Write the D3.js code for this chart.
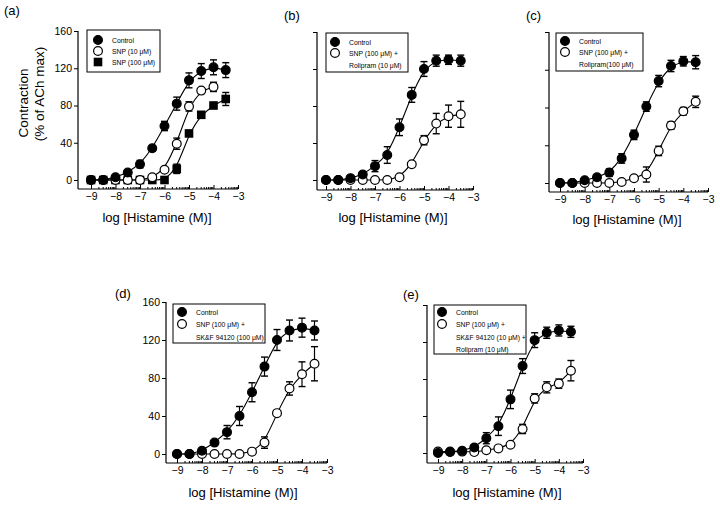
<!DOCTYPE html>
<html><head><meta charset="utf-8">
<script src="https://cdn.jsdelivr.net/npm/d3@7/dist/d3.min.js"></script>
<style>
body{margin:0;background:#fff;}
svg{display:block;font-family:"Liberation Sans",Arial,Helvetica,sans-serif;}
</style></head><body>
<svg id="chart" width="720" height="508"></svg>
<script>
// ---- data ----
const logHistamine = [-9,-8.5,-8,-7.5,-7,-6.5,-6,-5.5,-5,-4.5,-4,-3.5];
const xTickLabels = [-9,-8,-7,-6,-5,-4,-3];
const yTickLabels = [0,40,80,120,160];

const aControl     = [0,0,3,8,17,34,58,82,107,117,121,118];
const aControlErr  = [0,0,0,0,4,3,5,7,8,8,8,8];
const aSnp10       = [0,0,0,0,0,3,11,39,79,96,100,null];
const aSnp10Err    = [0,0,0,0,0,0,0,6,5,0,5,0];
const aSnp100      = [0,0,0,0,0,0,0,12,50,70,80,87];
const aSnp100Err   = [0,0,0,0,0,0,0,5,0,0,0,7];

const bControl     = [0,0,2,6,15,27,57,92,120,129,130,129];
const bControlErr  = [0,0,0,0,6,9,9,8,8,6,5,6];
const bSnpRol      = [0,0,0,0,0,0,3,17,43,61,69,71];
const bSnpRolErr   = [0,0,0,0,0,0,0,0,5,11,12,14];

const cControl     = [0,0,3,6,11,26,51,81,108,124,129,128];
const cControlErr  = [0,0,0,0,4,5,5,5,6,6,5,7];
const cSnpRol      = [0,0,0,0,0,1,5,9,34,61,76,86];
const cSnpRolErr   = [0,0,0,0,0,0,0,8,5,4,4,6];

const dControl     = [0,0,3.5,12,23,40,65,92,120,130,133,130];
const dControlErr  = [0,0,0,0,7,10,10,10,11,11,10,10];
const dSnpSkf      = [0,0,0,0,0,0,2.5,12,43,69,84,95];
const dSnpSkfErr   = [0,0,0,0,0,0,0,6,0,7,13,18];

const eControl     = [0,1,2.5,6,16,29,58,94,122,130,132.5,131];
const eControlErr  = [0,0,0,0,6,10,10,8,8,6,6,6];
const eSnpSkfRol   = [1.5,1.5,1.5,1,3,5,9,26,59,71,75,89];
const eSnpSkfRolErr= [0,0,0,0,0,0,0,5,5,6,5,11];

const legendA = ["Control","SNP (10 μM)","SNP (100 μM)"];
const legendB = ["Control","SNP (100 μM) +","Rolipram (10 μM)"];
const legendC = ["Control","SNP (100 μM) +","Rolipram(100 μM)"];
const legendD = ["Control","SNP (100 μM) +","SK&F 94120 (100 μM)"];
const legendE = ["Control","SNP (100 μM) +","SK&F 94120 (10 μM) +","Rolipram (10 μM)"];

// ---- layout ----
const panels = [
  {title:"(a)", tx:4, ty:15, x9:91, x3:238, y0:180, y160:31, axX:78, axY:189, labels:true, ylabel:true,
   series:[{v:aControl,e:aControlErr,s:"fc"},{v:aSnp10,e:aSnp10Err,s:"oc"},{v:aSnp100,e:aSnp100Err,s:"fs"}],
   leg:{x:87,y:30,w:73,h:42,mx:98,tx:112,rows:[40,51,62],sym:["fc","oc","fs"],txt:legendA},
   xl:{x:157,y:222}},
  {title:"(b)", tx:284, ty:20, x9:326, x3:473, y0:180, y160:32, axX:317, axY:190, labels:false,
   series:[{v:bControl,e:bControlErr,s:"fc"},{v:bSnpRol,e:bSnpRolErr,s:"oc"}],
   leg:{x:326,y:33,w:82,h:39,mx:335,tx:349,rows:[42,53,65],sym:["fc","oc",null],txt:legendB},
   xl:{x:393,y:222}},
  {title:"(c)", tx:526, ty:20, x9:560, x3:708, y0:183, y160:32, axX:549, axY:192, labels:false,
   series:[{v:cControl,e:cControlErr,s:"fc"},{v:cSnpRol,e:cSnpRolErr,s:"oc"}],
   leg:{x:556,y:33,w:87,h:38,mx:565,tx:579,rows:[41,52,64],sym:["fc","oc",null],txt:legendC},
   xl:{x:627,y:224}},
  {title:"(d)", tx:115, ty:298, x9:177, x3:327, y0:454, y160:302, axX:166, axY:463, labels:true,
   series:[{v:dControl,e:dControlErr,s:"fc"},{v:dSnpSkf,e:dSnpSkfErr,s:"oc"}],
   leg:{x:173,y:304,w:92,h:39,mx:182,tx:196,rows:[312,324,337],sym:["fc","oc",null],txt:legendD},
   xl:{x:243,y:497}},
  {title:"(e)", tx:403, ty:299, x9:438, x3:583, y0:453, y160:305, axX:427, axY:463, labels:false,
   series:[{v:eControl,e:eControlErr,s:"fc"},{v:eSnpSkfRol,e:eSnpSkfRolErr,s:"oc"}],
   leg:{x:434,y:305,w:92,h:49,mx:442,tx:456,rows:[312,324,337,349],sym:["fc","oc",null,null],txt:legendE},
   xl:{x:507,y:497}}
];

const svg = d3.select("#chart");

function symbol(g, type, cx, cy){
  if(type==="fs"){
    g.append("rect").attr("x",cx-4.3).attr("y",cy-4.3).attr("width",8.6).attr("height",8.6)
      .attr("fill","#000");
  } else if(type){
    g.append("circle").attr("cx",cx).attr("cy",cy).attr("r",4.4)
      .attr("fill",type==="fc"?"#000":"#fff").attr("stroke","#000").attr("stroke-width",1.2);
  }
}

panels.forEach(p=>{
  const g = svg.append("g");
  const x = d3.scaleLinear().domain([-9,-3]).range([p.x9,p.x3]);
  const y = d3.scaleLinear().domain([0,160]).range([p.y0,p.y160]);

  g.append("text").attr("x",p.tx).attr("y",p.ty).attr("font-size",13).text(p.title);

  // y axis
  const ya = d3.axisLeft(y).tickValues(yTickLabels).tickSize(4).tickSizeOuter(0).tickPadding(2)
    .tickFormat(p.labels? d3.format("d") : "");
  const yg = g.append("g").attr("transform",`translate(${p.axX},0)`).call(ya);
  yg.select(".domain").remove();
  yg.selectAll("text").attr("font-size",10.5).attr("fill","#000");
  g.append("line").attr("x1",p.axX).attr("x2",p.axX).attr("y1",y(160)).attr("y2",p.axY)
    .attr("stroke","#000").attr("stroke-width",1.2);

  // x axis
  const minor = [];
  for(let d=-9; d<-3; d++) for(let k=2;k<10;k++) minor.push(d+Math.log10(k));
  const xm = d3.axisBottom(x).tickValues(minor).tickSize(-2).tickSizeOuter(0).tickFormat("");
  const xmg = g.append("g").attr("transform",`translate(0,${p.axY})`).call(xm);
  xmg.select(".domain").remove();
  const xa = d3.axisBottom(x).tickValues(xTickLabels).tickSize(-4).tickSizeOuter(0).tickPadding(4)
    .tickFormat(d3.format("d"));
  const xg = g.append("g").attr("transform",`translate(0,${p.axY})`).call(xa);
  xg.select(".domain").remove();
  xg.selectAll("text").attr("font-size",10.5).attr("fill","#000");
  g.append("line").attr("x1",p.axX).attr("x2",x(-3)).attr("y1",p.axY).attr("y2",p.axY)
    .attr("stroke","#000").attr("stroke-width",1.2);

  g.append("text").attr("x",p.xl.x).attr("y",p.xl.y).attr("text-anchor","middle")
    .attr("font-size",13).text("log [Histamine (M)]");

  if(p.ylabel){
    g.append("text").attr("transform","translate(28,103) rotate(-90)").attr("text-anchor","middle")
      .attr("font-size",13.5).text("Contraction");
    g.append("text").attr("transform","translate(44,94) rotate(-90)").attr("text-anchor","middle")
      .attr("font-size",13.5).text("(% of ACh max)");
  }

  // curves
  const line = d3.line().x(d=>x(d[0])).y(d=>y(d[1])).curve(d3.curveBasis);
  p.series.forEach(s=>{
    const pts = logHistamine.map((lx,i)=>[lx,s.v[i]]).filter(d=>d[1]!=null);
    g.append("path").attr("d",line(pts)).attr("fill","none").attr("stroke","#000").attr("stroke-width",1.1);
  });
  // error bars
  p.series.forEach(s=>{
    logHistamine.forEach((lx,i)=>{
      const v=s.v[i], e=s.e[i];
      if(v==null || !e) return;
      const cx=x(lx);
      g.append("line").attr("x1",cx).attr("x2",cx).attr("y1",y(v-e)).attr("y2",y(v+e)).attr("stroke","#000").attr("stroke-width",1.2);
      [v-e,v+e].forEach(t=>g.append("line").attr("x1",cx-3.5).attr("x2",cx+3.5).attr("y1",y(t)).attr("y2",y(t))
        .attr("stroke","#000").attr("stroke-width",1.4));
    });
  });
  // markers
  p.series.slice().reverse().forEach(s=>{
    logHistamine.forEach((lx,i)=>{
      if(s.v[i]==null) return;
      symbol(g, s.s, x(lx), y(s.v[i]));
    });
  });

  // legend
  const L=p.leg;
  g.append("rect").attr("x",L.x).attr("y",L.y).attr("width",L.w).attr("height",L.h)
    .attr("fill","#fff").attr("stroke","#000").attr("stroke-width",1);
  L.txt.forEach((t,i)=>{
    symbol(g, L.sym[i], L.mx, L.rows[i]);
    g.append("text").attr("x",L.tx).attr("y",L.rows[i]+2.5).attr("font-size",6.8).text(t);
  });
});
</script>
</body></html>
